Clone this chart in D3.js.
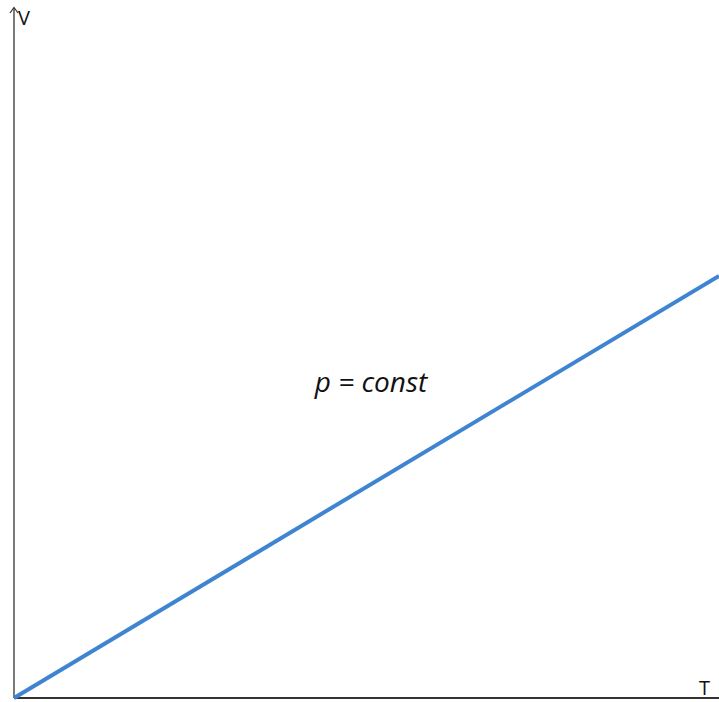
<!DOCTYPE html>
<html><head><meta charset="utf-8">
<script src="https://cdn.jsdelivr.net/npm/d3@7"></script>
<style>html,body{margin:0;padding:0;background:#fff;}svg{display:block;}</style>
</head><body>
<svg id="c" width="719" height="702"></svg>
<script>
const temperature = [0, 10];
const volume = [0, 6.1];
const axisLabels = ["T", "V"];
const annotation = "p = const";

const W = 719, H = 702;
const svg = d3.select("#c");
const x = d3.scaleLinear().domain([0, 10]).range([14, 719]);
const y = d3.scaleLinear().domain([0, 10]).range([698, 6]);

const axisColor = "#333";
svg.append("line").attr("x1", x(0)).attr("x2", W).attr("y1", y(0)).attr("y2", y(0))
  .attr("stroke", axisColor).attr("stroke-width", 2);
svg.append("line").attr("x1", x(0)).attr("x2", x(0)).attr("y1", y(0)).attr("y2", 8)
  .attr("stroke", axisColor).attr("stroke-width", 1.3);
svg.append("path").attr("d", `M${x(0)-4},13 L${x(0)},7.5 L${x(0)+4},13`)
  .attr("fill", "none").attr("stroke", axisColor).attr("stroke-width", 1.2);

const pts = temperature.map((t, i) => [t, volume[i]]);
svg.append("path").datum(pts)
  .attr("d", d3.line().x(d => x(d[0])).y(d => y(d[1])))
  .attr("fill", "none").attr("stroke", "#3f84d0").attr("stroke-width", 4);

svg.append("text").attr("x", 699).attr("y", 695).text(axisLabels[0])
  .attr("font-family", "Open Sans").attr("font-size", 20).attr("fill", "#111");
svg.append("text").attr("x", 18).attr("y", 25).text(axisLabels[1])
  .attr("font-family", "Open Sans").attr("font-size", 20).attr("fill", "#111");

svg.append("text").attr("x", 371).attr("y", 392).attr("text-anchor", "middle")
  .attr("font-family", "Open Sans").attr("font-style", "italic").attr("font-size", 28)
  .attr("fill", "#111").text(annotation);
</script>
</body></html>
